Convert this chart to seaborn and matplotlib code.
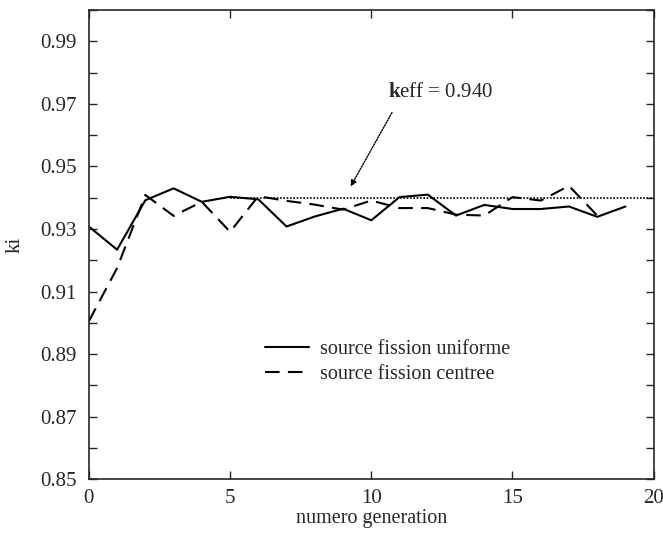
import numpy as np
import pandas as pd
import matplotlib
matplotlib.use("Agg")
import matplotlib.pyplot as plt
import seaborn as sns

# --------------------------------------------------
# Data
# --------------------------------------------------

gen_uniforme = list(range(20))
ki_uniforme = [0.9308, 0.9234, 0.9392, 0.9430, 0.9387, 0.9403, 0.9395, 0.9308,
               0.9340, 0.9365, 0.9328, 0.9402, 0.9410, 0.9343, 0.9377, 0.9364,
               0.9364, 0.9372, 0.9339, 0.9372]

gen_centree = list(range(19))
ki_centree = [0.9005, 0.9175, 0.9409, 0.9342, 0.9387, 0.9291, 0.9405, 0.9390,
              0.9378, 0.9362, 0.9391, 0.9367, 0.9367, 0.9346, 0.9343, 0.9402,
              0.9391, 0.9438, 0.9343]

keff = 0.940
keff_x = [5, 20]

label_uniforme = "source fission uniforme"
label_centree = "source fission centree"

df_u = pd.DataFrame({"gen": gen_uniforme, "ki": ki_uniforme})
df_c = pd.DataFrame({"gen": gen_centree, "ki": ki_centree})

# --------------------------------------------------
# Plot
# --------------------------------------------------

sns.set_style("ticks")
plt.rcParams["font.family"] = ["Liberation Serif", "DejaVu Serif"]
plt.rcParams["mathtext.fontset"] = "custom"
plt.rcParams["mathtext.rm"] = "Liberation Serif"
plt.rcParams["mathtext.bf"] = "Liberation Serif:bold"
plt.rcParams["xtick.direction"] = "in"
plt.rcParams["ytick.direction"] = "in"

fig = plt.figure(figsize=(6.63, 5.33), dpi=100)
ax = fig.add_axes([0.134, 0.101, 0.852, 0.880])

sns.lineplot(data=df_u, x="gen", y="ki", ax=ax, color="black", lw=1.5,
             label=label_uniforme)
sns.lineplot(data=df_c, x="gen", y="ki", ax=ax, color="black", lw=1.5,
             dashes=False, label=label_centree)
ax.lines[1].set_dashes([7, 4])

ax.plot(keff_x, [keff, keff], color="black", lw=1.2, ls=(0, (1, 1)))

ax.annotate("", xy=(9.22, 0.9428), xytext=(10.78, 0.968),
            arrowprops=dict(arrowstyle="-|>", color="black", lw=1.0,
                            ls=(0, (1, 1)), mutation_scale=9))
ax.text(10.6, 0.9706, r"$\mathbf{k}$eff = 0.940", fontsize=15,
        ha="left", va="bottom")

ax.set_xlim(0, 20)
ax.set_ylim(0.85, 1.0)
ax.set_xticks([0, 5, 10, 15, 20])
ax.set_yticks(np.arange(0.85, 0.995, 0.02))
ax.set_yticks(np.arange(0.86, 1.0, 0.02), minor=True)
ax.set_yticklabels(["0.85", "0.87", "0.89", "0.91", "0.93", "0.95", "0.97", "0.99"])
ax.tick_params(which="both", top=True, right=True, labelsize=15, width=1.0,
               length=6)
ax.tick_params(axis="y", which="major", pad=8.5)
ax.tick_params(axis="x", which="major", pad=7)
for s in ax.spines.values():
    s.set_linewidth(1.2)

ax.set_xlabel("numero generation", fontsize=14.5, labelpad=1)
ax.set_ylabel("ki", fontsize=15)
ax.yaxis.set_label_coords(-0.113, 0.5)

leg = ax.legend(loc="upper left", bbox_to_anchor=(0.311, 0.297), frameon=False,
                fontsize=14.5, handlelength=2.2, handletextpad=0.55,
                labelspacing=0.3, borderpad=0, borderaxespad=0)
leg.get_lines()[1].set_dashes([7, 4])

fig.savefig("out.png", dpi=100)
